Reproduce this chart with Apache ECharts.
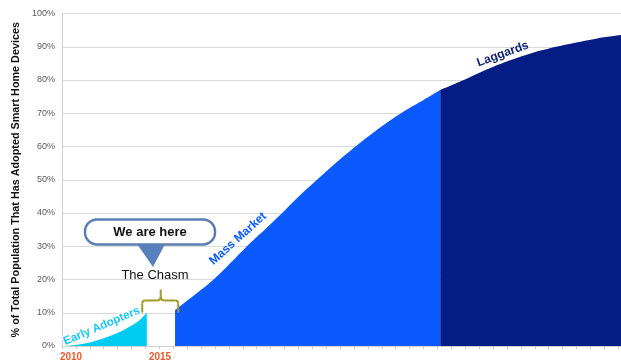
<!DOCTYPE html>
<html><head><meta charset="utf-8">
<script src="https://cdn.jsdelivr.net/npm/echarts@6/dist/echarts.min.js"></script>
<style>html,body{margin:0;padding:0;background:#fff}#c{width:621px;height:362px}</style>
</head><body><div id="c"></div>
<script>
// x is measured in axis-tick periods from the left edge, y in % of population
const earlyX = [0, 0.45, 1.9, 3.1, 4.3, 5.5, 6.1];
const earlyY = [0, 0.1, 1, 2.5, 4.5, 7.5, 10];
const massX = [8.13, 8.5, 10.9, 13.3, 14.2, 15.7, 17.1, 18.6, 20, 21.4, 22.9, 24.3, 25.8, 27.2];
const massY = [10.8, 12, 20, 30, 33.5, 39.5, 45.3, 51, 56.2, 61, 65.8, 69.8, 73.5, 77];
const lagX = [27.2, 28.9, 31.3, 33.7, 36.1, 38.5, 40.2];
const lagY = [77, 80, 84.5, 88, 90.5, 92.5, 93.5];
const yearLabels = ['2010', '2015'];
const yearPos = [0.65, 7.05];
const yAxisTitle = '% of Total Population That Has Adopted Smart Home Devices';

const zip = (xs, ys) => xs.map((x, i) => [x, ys[i]]);
const chart = echarts.init(document.getElementById('c'), null, {renderer: 'canvas'});
const areaSeries = (name, xs, ys, color) => ({
  name, type: 'line', data: zip(xs, ys), smooth: 0.3, showSymbol: false, silent: true,
  lineStyle: {width: 0}, areaStyle: {color, opacity: 1}, itemStyle: {color}
});
chart.setOption({
  animation: false,
  backgroundColor: '#fff',
  grid: {left: 62, right: 0, top: 13.5, bottom: 15.3, containLabel: false},
  xAxis: {
    type: 'value', min: 0, max: 40.2, interval: 1,
    axisLine: {show: true, lineStyle: {color: '#d0d0d0', width: 1}},
    axisTick: {show: true, length: 3, lineStyle: {color: '#c8c8c8'}},
    splitLine: {show: false},
    axisLabel: {
      customValues: yearPos,
      formatter: v => { const i = yearPos.findIndex(p => Math.abs(p - v) < 1e-6); return i >= 0 ? yearLabels[i] : ''; },
      color: '#E8592A', fontWeight: 'bold', fontSize: 10, fontFamily: 'Liberation Sans', margin: 6
    }
  },
  yAxis: {
    type: 'value', min: 0, max: 100, interval: 10,
    name: yAxisTitle, nameLocation: 'middle', nameGap: 36, nameRotate: 90,
    nameTextStyle: {fontWeight: 'bold', fontSize: 10.8, color: '#111', fontFamily: 'Liberation Sans'},
    axisLine: {show: true, lineStyle: {color: '#d0d0d0'}},
    axisTick: {show: false},
    splitLine: {lineStyle: {color: '#d9d9d9', width: 1}},
    axisLabel: {formatter: '{value}%', color: '#595959', fontSize: 9, fontFamily: 'Liberation Sans', margin: 7}
  },
  series: [
    areaSeries('Early Adopters', earlyX, earlyY, '#00CCF2'),
    areaSeries('Mass Market', massX, massY, '#0A5AFF'),
    areaSeries('Laggards', lagX, lagY, '#041C84')
  ]
});

// annotation anchors in data coordinates
const P = (u, v) => chart.convertToPixel({gridIndex: 0}, [u, v]);
const deg = d => d * Math.PI / 180;
const ea = P(2.86, 6.0), mm = P(12.66, 32.3), lg = P(31.7, 87.8);
const call = P(6.33, 34.3), chasm = P(6.69, 21.2), brace = P(7.1, 17);
const bx = brace[0], by = brace[1];
const bt = by + 11, bb = by + 23;
const braceStyle = {fill: 'none', stroke: '#A09A2A', lineWidth: 2};
const seg = (x1, y1, x2, y2) => ({type: 'line', z: 100, shape: {x1, y1, x2, y2}, style: braceStyle});
const curve = (x1, y1, cx, cy, x2, y2) => ({type: 'bezierCurve', z: 100, shape: {x1, y1, x2, y2, cpx1: cx, cpy1: cy}, style: braceStyle});
chart.setOption({
  graphic: [
    {type: 'text', x: ea[0], y: ea[1], rotation: deg(23), z: 100,
     style: {text: 'Early Adopters', fill: '#1CC6F0', stroke: '#fff', lineWidth: 2, font: 'bold 11.5px "Liberation Sans"', align: 'center', verticalAlign: 'middle'}},
    {type: 'text', x: mm[0], y: mm[1], rotation: deg(42), z: 100,
     style: {text: 'Mass Market', fill: '#0A5AFF', font: 'bold 12px "Liberation Sans"', align: 'center', verticalAlign: 'middle'}},
    {type: 'text', x: lg[0], y: lg[1], rotation: deg(20), z: 100,
     style: {text: 'Laggards', fill: '#0E2275', font: 'bold 12px "Liberation Sans"', align: 'center', verticalAlign: 'middle'}},
    {type: 'polygon', z: 100, shape: {points: [[call[0]-13, call[1]+12], [call[0]+15, call[1]+12], [call[0]+3, call[1]+35]]},
     style: {fill: '#5A80BC'}},
    {type: 'rect', z: 101, shape: {x: call[0]-65, y: call[1]-12.5, width: 130, height: 25, r: 12},
     style: {fill: '#fff', stroke: '#5B7DB3', lineWidth: 2.5}},
    {type: 'text', x: call[0], y: call[1], z: 102,
     style: {text: 'We are here', fill: '#111', font: 'bold 13px "Liberation Sans"', align: 'center', verticalAlign: 'middle'}},
    {type: 'text', x: chasm[0], y: chasm[1], z: 100,
     style: {text: 'The Chasm', fill: '#111', font: '13px "Liberation Sans"', align: 'center', verticalAlign: 'middle'}},
    seg(bx - 18.5, bb, bx - 18.5, bt + 3),
    curve(bx - 18.5, bt + 3, bx - 18.5, bt, bx - 15.5, bt),
    seg(bx - 15.5, bt, bx - 4, bt),
    curve(bx - 4, bt, bx, bt, bx, bt - 4),
    seg(bx, bt - 4, bx, by),
    curve(bx, bt - 4, bx, bt, bx + 4, bt),
    seg(bx + 4, bt, bx + 14.5, bt),
    curve(bx + 14.5, bt, bx + 17.5, bt, bx + 17.5, bt + 3),
    seg(bx + 17.5, bt + 3, bx + 17.5, bb)
  ]
});
</script></body></html>
